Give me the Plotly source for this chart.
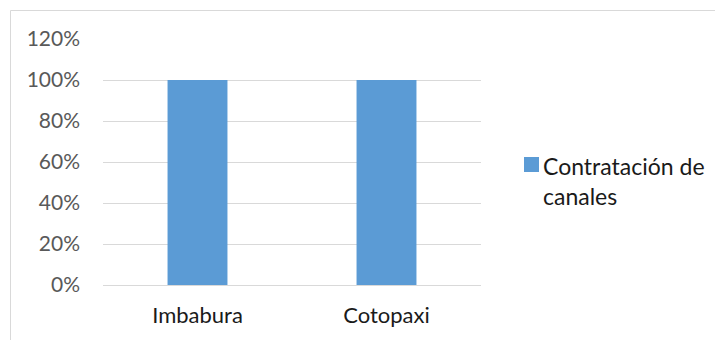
import plotly.graph_objects as go

categories = ["Imbabura", "Cotopaxi"]
values = [1.0, 1.0]
series_name = "Contratación de<br>canales"

L, R, T, B = 103, 481, 39, 285
W, H = 715, 340
pw, ph = R - L, B - T

def px_x(p):
    return (p - L) / pw

def px_y(p):
    return (B - p) / ph

BAR = "#5b9bd5"
font = "Lato, Calibri, Carlito, sans-serif"
FS = 21

fig = go.Figure()
fig.add_trace(go.Bar(x=categories, y=values, name=series_name.replace("<br>", " "),
                     marker=dict(color=BAR, line=dict(width=0)),
                     showlegend=False))

fig.update_layout(
    width=W, height=H,
    margin=dict(l=L, r=W - R, t=T, b=H - B, pad=0),
    paper_bgcolor="white", plot_bgcolor="white",
    bargap=0.683,
    font=dict(family=font, size=FS, color="#595959"),
    showlegend=False,
    xaxis=dict(showgrid=False, showline=False, ticks="",
               tickfont=dict(color="#1a1a1a", size=22), ticklabelstandoff=15),
    yaxis=dict(range=[0, 1.2], dtick=0.2, tickformat=".0%",
               showgrid=True, gridcolor="#d9d9d9", gridwidth=1,
               zeroline=True, zerolinecolor="#d9d9d9", zerolinewidth=1,
               showline=False, ticks="", ticklabelstandoff=22,
               tickfont=dict(color="#595959", size=FS)),
    shapes=[
        dict(type="line", xref="paper", yref="paper",
             x0=px_x(10.5), x1=px_x(10.5), y0=px_y(345), y1=px_y(10.5),
             line=dict(color="#d9d9d9", width=1)),
        dict(type="line", xref="paper", yref="paper",
             x0=px_x(10.5), x1=px_x(720), y0=px_y(10.5), y1=px_y(10.5),
             line=dict(color="#d9d9d9", width=1)),
        # legend key
        dict(type="rect", xref="paper", yref="paper",
             x0=px_x(524), x1=px_x(539), y0=px_y(172), y1=px_y(157),
             fillcolor=BAR, line=dict(width=0)),
    ],
    annotations=[
        dict(text=series_name, xref="paper", yref="paper",
             x=px_x(541), y=px_y(181), xanchor="left", yanchor="middle",
             align="left", showarrow=False,
             font=dict(family=font, size=23, color="#1a1a1a")),
    ],
)

fig.write_html("out.html")
